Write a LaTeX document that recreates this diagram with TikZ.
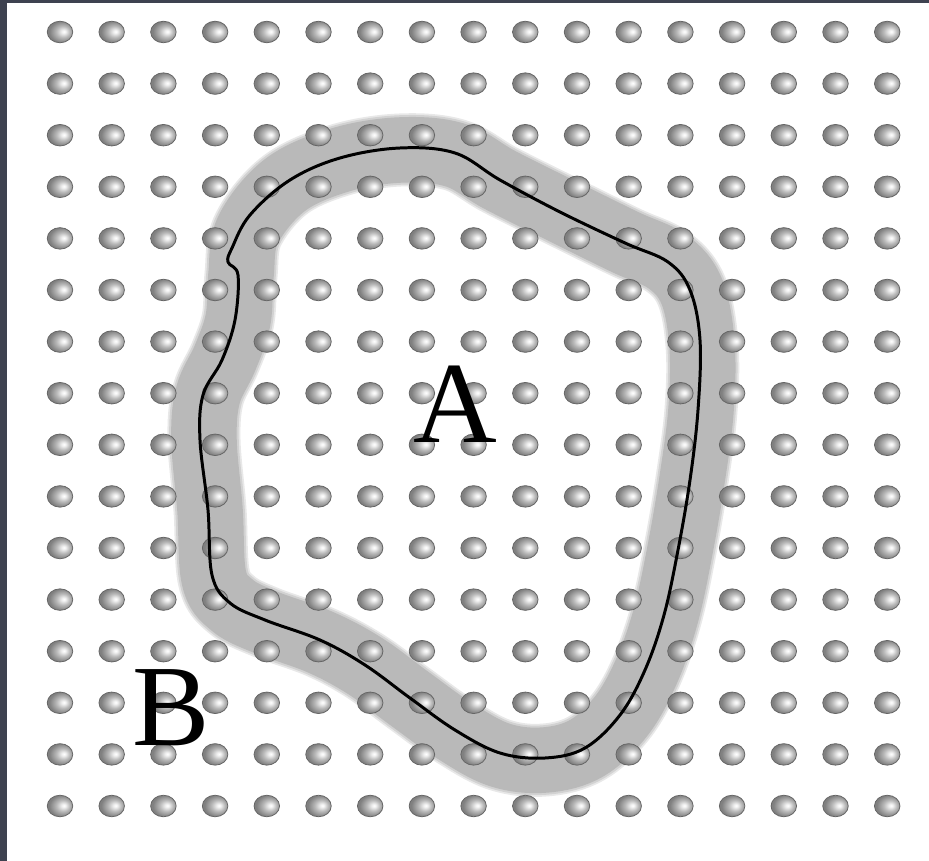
\documentclass[tikz,border=0pt]{standalone}
\usepackage{fontspec}
\setmainfont{Liberation Serif}
\usepackage{xcolor}
\usetikzlibrary{positioning}
\definecolor{frameslate}{RGB}{62,66,80}
\pgfdeclareradialshading{pearl}{\pgfpoint{8bp}{1bp}}{%
  color(0bp)=(white); color(4bp)=(gray!12); color(13bp)=(gray!55);
  color(21bp)=(gray!85); color(25bp)=(gray!100); color(50bp)=(gray!100)}

\begin{document}
\begin{tikzpicture}[x=0.02cm, y=-0.02cm,
    pearlball/.style={shading=pearl, draw=gray!80!black, line width=0.45pt},
    letter/.style={inner sep=0pt, anchor=base, font=\fontsize{66}{66}\selectfont}]
  \useasboundingbox (0,0) rectangle (929,861);
  \fill[frameslate] (0,0) rectangle (929,861);
  \fill[white] (7,3) rectangle (929,861);

  % gray band under the grid
  \foreach \bw/\bc in {1.46cm/gray!18, 1.39cm/gray!35, 1.31cm/gray!55} {
    \draw[line width=\bw, \bc, line join=round] plot[smooth cycle, tension=0.6] coordinates {
      (400,150) (455,155) (500,180) (560,210) (625,242) (668,262) (692,292)
      (702,345) (701,410) (692,480) (680,550) (666,615) (647,670) (622,715)
      (587,748) (545,760) (500,755) (455,731) (410,699) (365,666) (320,642)
      (265,622) (232,605) (214,578) (210,510) (204,440) (208,395) (225,358)
      (238,320) (241,275) (248,230) (285,185) (340,160)};
  }

  % grid of balls
  \foreach \col in {0,...,16} {
    \foreach \row in {0,...,15} {
      \path[pearlball] ({60+51.7*\col},{32+51.6*\row})
        ellipse [x radius=0.255cm, y radius=0.215cm];
    }
  }

  % boundary line
  \draw[line width=1.7pt, black] plot[smooth cycle, tension=0.6] coordinates {
    (400,148) (455,153) (500,180) (560,212) (625,243) (668,262) (690,290)
    (700,340) (698,410) (690,480) (678,550) (664,615) (645,670) (620,715)
    (585,748) (545,758) (500,753) (455,730) (410,698) (365,665) (320,640)
    (265,620) (230,603) (212,575) (208,510) (200,440) (203,395) (222,360)
    (235,320) (238,275) (228,262) (232,248) (250,215) (290,180) (340,158)};

  \node[letter] (labA) at (455,442) {A};
  \node[letter] (labB) at (171,745) {B};
\end{tikzpicture}
\end{document}
